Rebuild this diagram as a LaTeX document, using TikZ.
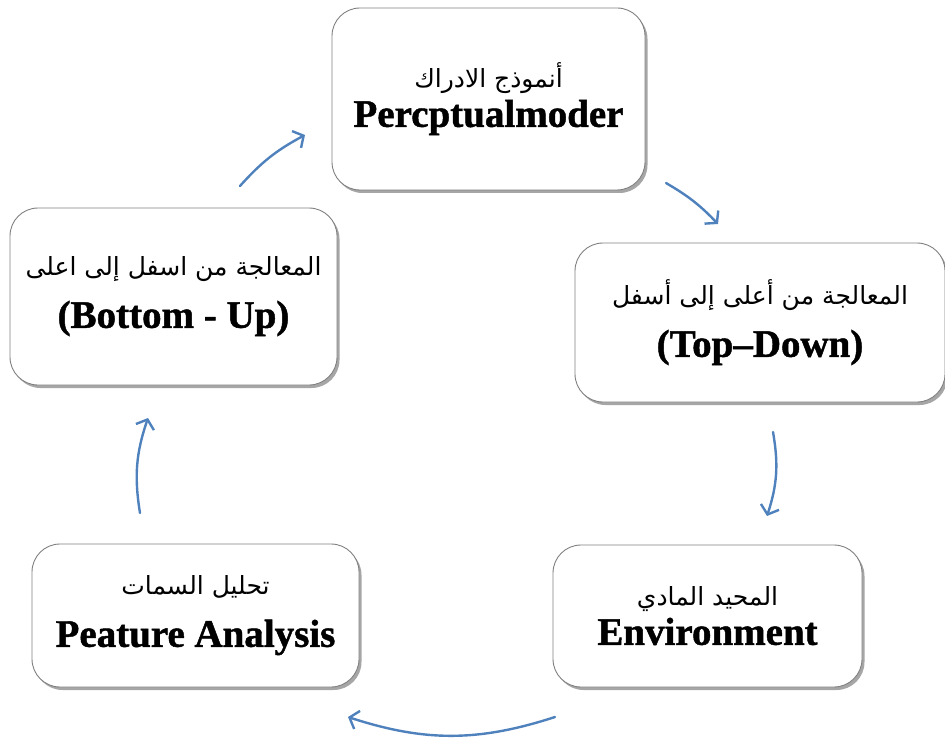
\documentclass[tikz,border=0pt]{standalone}
\usepackage{fontspec}
\setmainfont{Liberation Serif}
\newfontfamily\heavy[FakeBold=1.2]{Liberation Serif Bold}
\newfontfamily\arabicfont[Script=Arabic]{DejaVu Sans}
\TeXXeTstate=1
\usetikzlibrary{arrows.meta,shadows}
\definecolor{arrowblue}{HTML}{4F81BD}
\definecolor{boxline}{HTML}{808080}
\tikzset{
  box/.style={draw=boxline, line width=0.9pt, fill=white, rounded corners=28pt,
    align=center, inner sep=0pt,
    drop shadow={shadow xshift=2.5pt, shadow yshift=-3pt, fill=black, opacity=0.35}},
  tight/.style={font=\fontsize{10}{39}\selectfont},
  loose/.style={font=\fontsize{10}{52}\selectfont},
  flow/.style={draw=arrowblue, line width=2.4pt, line cap=round,
    -{Straight Barb[length=8pt, width=19pt, line width=2.4pt]}},
}
\newcommand{\ARtxt}[1]{{\arabicfont\fontsize{25}{25}\selectfont\beginR #1\endR}}
\newcommand{\ENtxt}[1]{{\heavy\fontsize{39}{39}\selectfont #1}}
\begin{document}
\begin{tikzpicture}[x=1pt,y=1pt]
\useasboundingbox (0,0) rectangle (945,-738);
% boxes
\node[box, tight, minimum width=313pt, minimum height=182pt] (pm) at (488.5,-99)
  {\ARtxt{أنموذج الادراك}\\ \ENtxt{Percptualmoder}};
\node[box, loose, minimum width=370pt, minimum height=159pt] (td) at (760,-322.5)
  {\ARtxt{المعالجة من أعلى إلى أسفل}\\ \ENtxt{(Top–Down)}};
\node[box, loose, minimum width=327pt, minimum height=177pt] (bu) at (173.5,-296.5)
  {\ARtxt{المعالجة من اسفل إلى اعلى}\\ \ENtxt{(Bottom - Up)}};
\node[box, loose, minimum width=327pt, minimum height=143pt] (fa) at (195.5,-615.5)
  {\ARtxt{تحليل السمات}\\ \ENtxt{Peature Analysis}};
\node[box, tight, minimum width=309pt, minimum height=142pt] (en) at (707.5,-616)
  {\ARtxt{المحيد المادي}\\ \ENtxt{Environment}};
% arrow end points
\coordinate (a1s) at (240,-186); \coordinate (a1e) at (305,-135);
\coordinate (a2s) at (666,-183); \coordinate (a2e) at (718,-224);
\coordinate (a3s) at (773,-432); \coordinate (a3e) at (767,-516);
\coordinate (a4s) at (555,-717); \coordinate (a4e) at (348,-717);
\coordinate (a5s) at (140,-513); \coordinate (a5e) at (148,-418);
\draw[flow] (a1s) to[bend left=10] (a1e);
\draw[flow] (a2s) to[bend left=8] (a2e);
\draw[flow] (a3s) to[bend left=14] (a3e);
\draw[flow] (a4s) to[bend left=18] (a4e);
\draw[flow] (a5s) to[bend left=14] (a5e);
\end{tikzpicture}
\end{document}
